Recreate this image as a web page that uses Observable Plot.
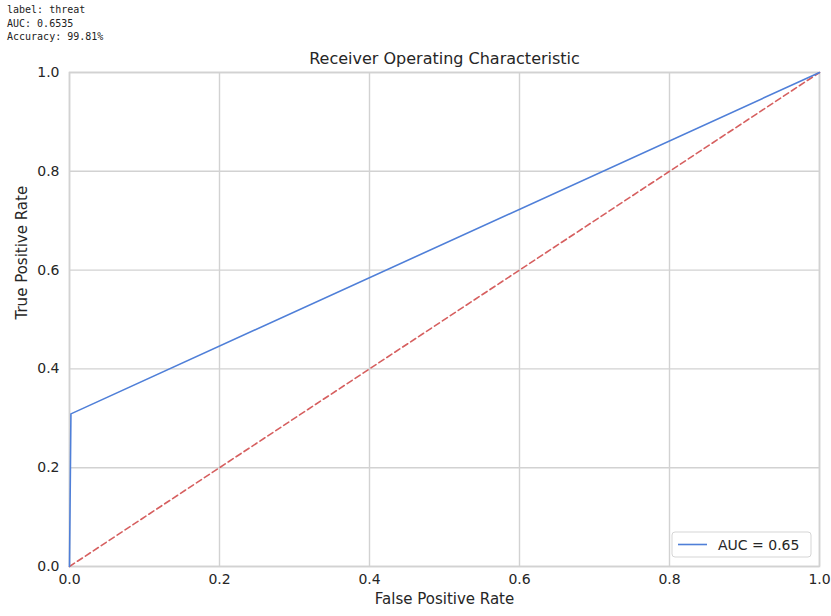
<!DOCTYPE html>
<html>
<head>
<meta charset="utf-8">
<script src="https://cdn.jsdelivr.net/npm/d3@7"></script>
<script src="https://cdn.jsdelivr.net/npm/@observablehq/plot@0.6"></script>
<style>
  body { margin: 0; background: #fff; width: 831px; height: 616px; overflow: hidden; }
  #info { font-family: "DejaVu Sans Mono", monospace; font-size: 10px; line-height: 13.5px; color: #222; padding: 3px 0 0 7px; height: 41px; box-sizing: content-box; white-space: pre; }
  svg { display: block; }
</style>
</head>
<body>
<div id="info"></div>
<div id="chart"></div>
<script>
const infoLines = ["label: threat", "AUC: 0.6535", "Accuracy: 99.81%"];
const rocFpr = [0, 0, 0.0019, 1];
const rocTpr = [0, 0.0, 0.309, 1];
const chanceFpr = [0, 1];
const chanceTpr = [0, 1];
const ticks = [0, 0.2, 0.4, 0.6, 0.8, 1.0];
const title = "Receiver Operating Characteristic";
const xLabel = "False Positive Rate";
const yLabel = "True Positive Rate";
const legendLabel = "AUC = 0.65";

document.getElementById("info").textContent = infoLines.join("\n");

const roc = rocFpr.map((x, i) => ({x, y: rocTpr[i]}));
const chance = chanceFpr.map((x, i) => ({x, y: chanceTpr[i]}));

const blue = "#4f7fd8";
const red = "#d65f5f";
const grid = "#d2d2d2";
const ink = "#262626";

const chart = Plot.plot({
  width: 831,
  height: 572,
  marginTop: 28,
  marginBottom: 50,
  marginLeft: 69,
  marginRight: 12,
  style: { fontFamily: "DejaVu Sans, sans-serif", fontSize: "14px", color: ink, background: "#fff" },
  x: { domain: [0, 1], ticks: ticks, tickFormat: d3.format(".1f"), tickSize: 0, tickPadding: 8, label: null },
  y: { domain: [0, 1], ticks: ticks, tickFormat: d3.format(".1f"), tickSize: 0, tickPadding: 10, label: null },
  marks: [
    Plot.gridX(ticks, { stroke: grid, strokeOpacity: 1, strokeWidth: 1.4 }),
    Plot.gridY(ticks, { stroke: grid, strokeOpacity: 1, strokeWidth: 1.4 }),
    Plot.frame({ stroke: grid, strokeWidth: 1.6 }),
    Plot.axisX({ ticks, tickFormat: d3.format(".1f"), tickSize: 0, tickPadding: 8, fontSize: 14, fill: ink }),
    Plot.axisY({ ticks, tickFormat: d3.format(".1f"), tickSize: 0, tickPadding: 10, fontSize: 14, fill: ink }),
    Plot.line(chance, { x: "x", y: "y", stroke: red, strokeWidth: 1.6, strokeDasharray: "6,3.5" }),
    Plot.line(roc, { x: "x", y: "y", stroke: blue, strokeWidth: 1.6 }),
    Plot.text([title], { frameAnchor: "top", dy: -20, text: d => d, fontSize: 16, fill: ink }),
    Plot.text([xLabel], { frameAnchor: "bottom", dy: 37, text: d => d, fontSize: 15, fill: ink }),
    Plot.text([yLabel], { frameAnchor: "left", dx: -47, rotate: -90, text: d => d, fontSize: 15, fill: ink })
  ]
});

// legend (matplotlib-style, lower right)
const sx = chart.scale("x"), sy = chart.scale("y");
const right = sx.apply(1), bottom = sy.apply(0);
const svg = d3.select(chart);
const lw = 139, lh = 25;
const lx = right - 8 - lw, ly = bottom - 9 - lh;
const g = svg.append("g").attr("text-anchor", "start");
g.append("rect").attr("x", lx).attr("y", ly).attr("width", lw).attr("height", lh)
  .attr("rx", 3).attr("fill", "#fff").attr("fill-opacity", 0.8).attr("stroke", "#d5d5d5");
g.append("line").attr("x1", lx + 6).attr("x2", lx + 35).attr("y1", ly + lh / 2).attr("y2", ly + lh / 2)
  .attr("stroke", blue).attr("stroke-width", 1.6);
g.append("text").attr("x", lx + 46).attr("y", ly + lh / 2).attr("dy", "0.36em")
  .attr("text-anchor", "start")
  .attr("font-size", 14).attr("fill", ink).attr("font-family", "DejaVu Sans, sans-serif").text(legendLabel);

document.getElementById("chart").appendChild(chart);
</script>
</body>
</html>
